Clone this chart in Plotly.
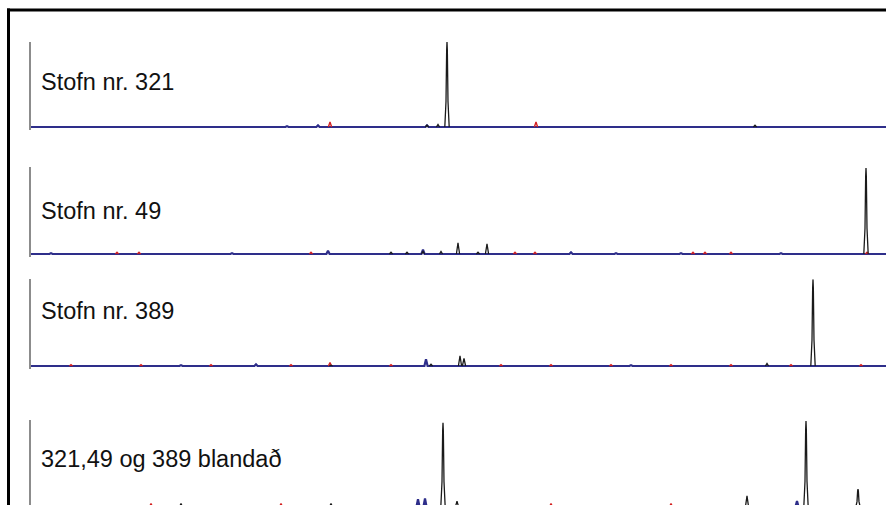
import plotly.graph_objects as go

PAGE_OFF = 0  # body margin removed below
W, H = 886, 505

# ---- data: peak positions (scan units) and heights (% of full scale) ----
labels = ["Stofn nr. 321", "Stofn nr. 49", "Stofn nr. 389", "321,49 og 389 blandað"]
scan_max = 855

p1_black_pos = [396, 407, 416, 724]
p1_black_h = [2, 3, 100, 2]
p1_blue_pos = [256, 287, 396]
p1_blue_h = [1, 2, 2]
p1_red_pos = [299, 505]
p1_red_h = [6, 6]

p2_black_pos = [360, 376, 392, 410, 427, 447, 456, 835]
p2_black_h = [2, 2, 3, 3, 13, 2, 12, 101]
p2_blue_pos = [20, 201, 297, 392, 540, 585, 650, 750]
p2_blue_h = [1, 1, 4, 5, 2, 1, 1, 1]
p2_red_pos = [86, 108, 280, 484, 504, 662, 674, 700, 836]
p2_red_h = [2, 2, 2, 2, 2, 2, 2, 2, 2]

p3_black_pos = [300, 400, 429, 433, 736, 782]
p3_black_h = [1, 2, 12, 9, 3, 102]
p3_blue_pos = [150, 225, 395, 600]
p3_blue_h = [1, 2, 8, 1]
p3_red_pos = [40, 110, 180, 260, 299, 360, 470, 520, 580, 640, 700, 760, 830]
p3_red_h = [1.5, 1.5, 1.5, 1.5, 4, 1.5, 1.5, 1.5, 1.5, 1.5, 1.5, 1.5, 1.5]

p4_black_pos = [150, 300, 412, 426, 716, 775, 827]
p4_black_h = [4, 4, 99, 7, 13, 101, 21]
p4_blue_pos = [387, 394, 766]
p4_blue_h = [9, 10, 7]
p4_red_pos = [120, 250, 520, 640]
p4_red_h = [4, 4, 4, 4]

panels = [
    dict(black=(p1_black_pos, p1_black_h), blue=(p1_blue_pos, p1_blue_h), red=(p1_red_pos, p1_red_h)),
    dict(black=(p2_black_pos, p2_black_h), blue=(p2_blue_pos, p2_blue_h), red=(p2_red_pos, p2_red_h)),
    dict(black=(p3_black_pos, p3_black_h), blue=(p3_blue_pos, p3_blue_h), red=(p3_red_pos, p3_red_h)),
    dict(black=(p4_black_pos, p4_black_h), blue=(p4_blue_pos, p4_blue_h), red=(p4_red_pos, p4_red_h)),
]

# ---- layout geometry (page pixels) ----
PX_PER_UNIT = 0.85
baselines_px = [127, 254, 366, 507]
ymins = [-3, -3, -3, (507 - 505) / PX_PER_UNIT]
ymaxs = [100, 102, 102, 102]
label_px = [82, 211, 311, 459]
X0_PX = 31

BIG_OFF = [-2.2, -1.0, -0.35, 0, 0.35, 1.0, 2.2]
BIG_FR = [0, 0.3, 0.9, 1, 0.9, 0.3, 0]
SMALL_OFF = [-1.6, 0, 1.6]
SMALL_FR = [0, 1, 0]


def fx(px):  # page x pixel -> paper fraction
    return (px - PAGE_OFF) / W


def fy(py):  # page y pixel -> paper fraction
    return 1 - (py - PAGE_OFF) / H


def trace_xy(pos, hts, baseline):
    xs, ys = ([0], [0]) if baseline else ([], [])
    for p, h in sorted(zip(pos, hts)):
        off, fr = (BIG_OFF, BIG_FR) if h > 15 else (SMALL_OFF, SMALL_FR)
        for o, f in zip(off, fr):
            xs.append(p + o)
            ys.append(h * f)
        if not baseline:
            xs.append(None)
            ys.append(None)
    if baseline:
        xs.append(scan_max)
        ys.append(0)
    return xs, ys


fig = go.Figure()
colors = dict(blue="#2e2e8a", red="#d42020", black="#1a1a1a")
widths = dict(blue=2.2, red=1.4, black=1.3)

for i, pan in enumerate(panels):
    sfx = "" if i == 0 else str(i + 1)
    for key in ["blue", "red", "black"]:
        xs, ys = trace_xy(*pan[key], baseline=(key == "blue"))
        fig.add_trace(go.Scatter(x=xs, y=ys, mode="lines",
                                 line=dict(color=colors[key], width=widths[key]),
                                 xaxis="x" + sfx, yaxis="y" + sfx, connectgaps=False,
                                 hoverinfo="skip", showlegend=False))
    bpx = baselines_px[i]
    bottom_px = bpx - ymins[i] * PX_PER_UNIT
    top_px = bpx - ymaxs[i] * PX_PER_UNIT
    dom = [max(0, fy(bottom_px)), fy(top_px)]
    fig.layout["xaxis" + sfx] = dict(domain=[fx(X0_PX), 1], range=[0, scan_max],
                                     showgrid=False, zeroline=False, showticklabels=False,
                                     ticks="", showline=False, anchor="y" + sfx, fixedrange=True)
    fig.layout["yaxis" + sfx] = dict(domain=dom, range=[ymins[i], ymaxs[i]],
                                     showgrid=False, zeroline=False, showticklabels=False,
                                     ticks="", showline=True, linecolor="#8c8c8c", linewidth=2,
                                     anchor="x" + sfx, fixedrange=True)
    fig.add_annotation(text=labels[i], xref="paper", yref="paper",
                       x=fx(39), y=fy(label_px[i]), xanchor="left", yanchor="middle",
                       showarrow=False, font=dict(family="Liberation Sans, Arial", size=23.5, color="#111"))

# frame lines (left and top)
fig.add_shape(type="line", xref="paper", yref="paper", x0=fx(8.5), x1=fx(8.5), y0=0, y1=fy(8.5),
              line=dict(color="black", width=3))
fig.add_shape(type="line", xref="paper", yref="paper", x0=fx(7), x1=1, y0=fy(10), y1=fy(10),
              line=dict(color="black", width=3))

fig.update_layout(width=W, height=H, autosize=False, margin=dict(l=0, r=0, t=0, b=0),
                  paper_bgcolor="white", plot_bgcolor="white")

fig.write_html("out.html", config={"displayModeBar": False},
               post_script="document.body.style.margin='0';document.body.style.overflow='hidden';")
